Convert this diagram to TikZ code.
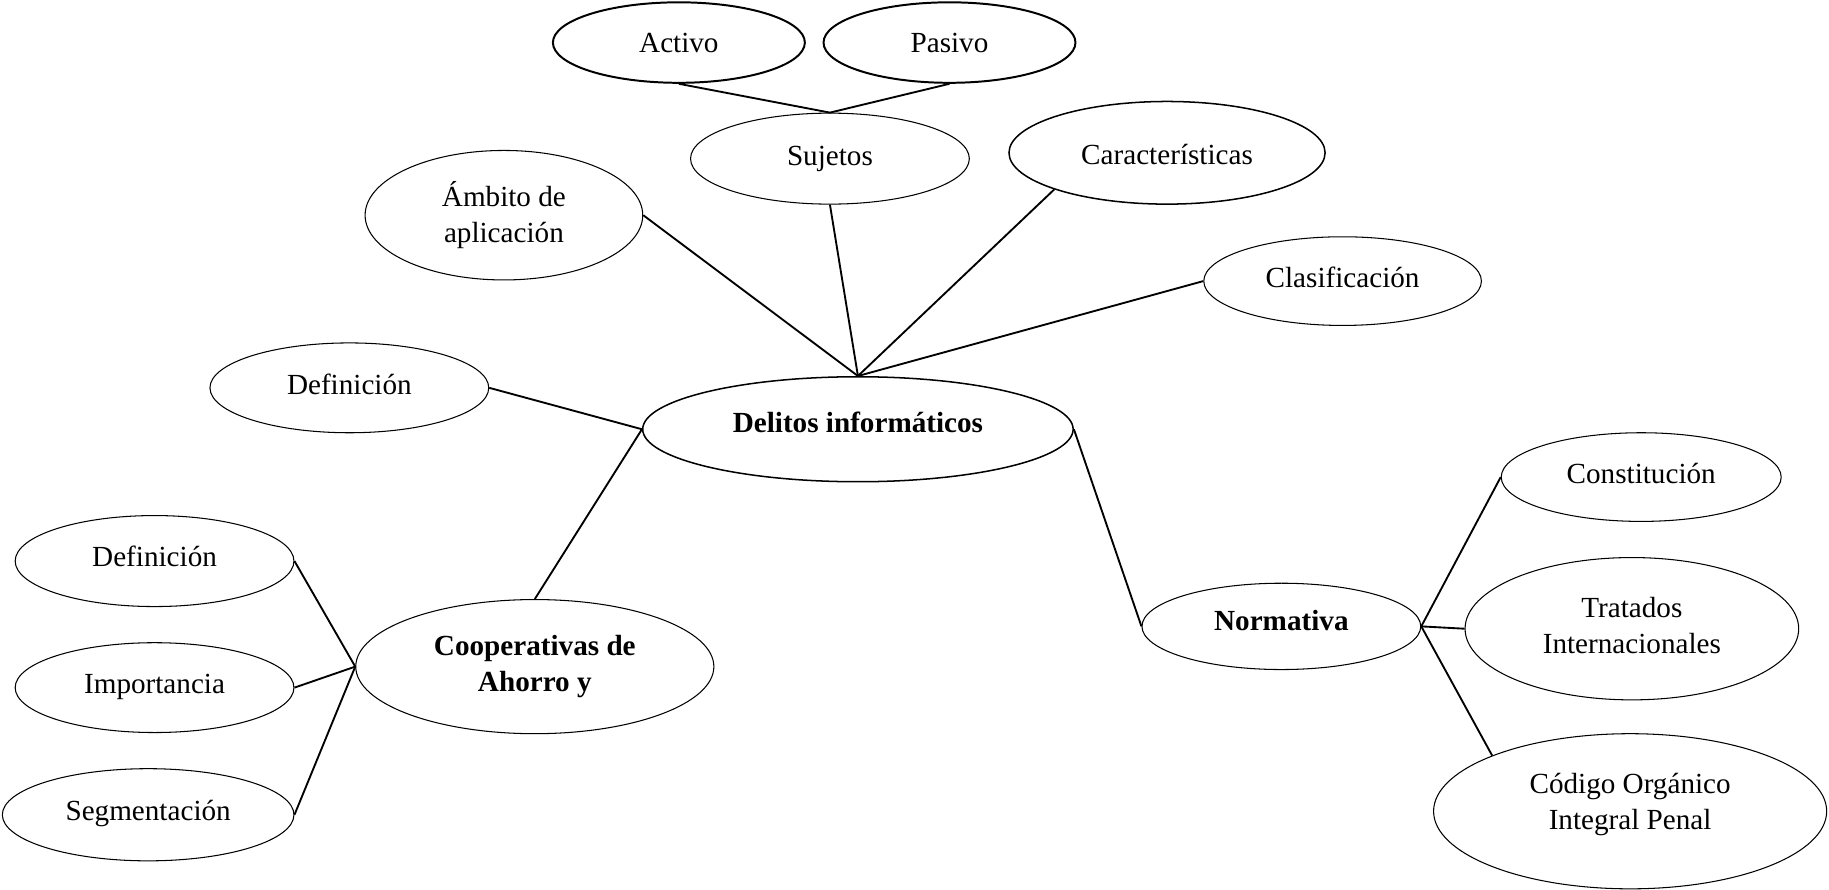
\documentclass[tikz,border=0pt]{standalone}
\usepackage{fontspec}
\setmainfont{Liberation Serif}
\usetikzlibrary{shapes.geometric}
\begin{document}
\begin{tikzpicture}[x=0.5pt,y=-0.5pt,
  every node/.style={font=\fontsize{12.5}{15.5}\selectfont},
  oval/.style={ellipse,draw=black,line width=0.45pt,inner sep=0pt},
  thickoval/.style={oval,line width=0.85pt},
  midoval/.style={oval,line width=0.65pt},
  txt/.style={inner sep=0pt,align=center},
  link/.style={draw=black,line width=0.8pt}]
\useasboundingbox (0,0) rectangle (1568,763);
% ellipses
\node[thickoval,minimum width=108pt,minimum height=34.5pt] (act) at (582,36.5) {};
\node[thickoval,minimum width=108pt,minimum height=34.5pt] (pas) at (814,36.5) {};
\node[oval,minimum width=119.5pt,minimum height=39pt] (suj) at (711.5,136) {};
\node[midoval,minimum width=135.5pt,minimum height=44pt] (car) at (1000.5,131) {};
\node[oval,minimum width=119pt,minimum height=38pt] (cla) at (1151,241) {};
\node[oval,minimum width=119pt,minimum height=55.5pt] (amb) at (432,184.5) {};
\node[oval,minimum width=119.5pt,minimum height=38.5pt] (def) at (299.5,332.5) {};
\node[midoval,minimum width=184.5pt,minimum height=45pt] (del) at (735.5,368) {};
\node[oval,minimum width=153.5pt,minimum height=57.5pt] (coop) at (458.5,571.5) {};
\node[oval,minimum width=119.5pt,minimum height=39pt] (def2) at (132.5,481) {};
\node[oval,minimum width=119.5pt,minimum height=38.5pt] (imp) at (132.5,589.5) {};
\node[oval,minimum width=125pt,minimum height=39.5pt] (seg) at (127,698.5) {};
\node[oval,minimum width=119.5pt,minimum height=37pt] (nor) at (1098.5,537) {};
\node[oval,minimum width=120pt,minimum height=38pt] (con) at (1407,409) {};
\node[oval,minimum width=143pt,minimum height=61pt] (tra) at (1399,539) {};
\node[oval,minimum width=168.5pt,minimum height=66.5pt] (cod) at (1397.5,695.5) {};
% texts
\node[txt] (act-t) at (act.center) {Activo};
\node[txt] (pas-t) at (pas.center) {Pasivo};
\node[txt] (suj-t) at (suj.center) {Sujetos};
\node[txt] (car-t) at ([yshift=-0.8pt]car.center) {Características};
\node[txt] (cla-t) at ([yshift=1.5pt]cla.center) {Clasificación};
\node[txt] (amb-t) at (amb.center) {Ámbito de\\aplicación};
\node[txt] (def-t) at ([yshift=1.5pt]def.center) {Definición};
\node[txt] (del-t) at ([yshift=3pt]del.center) {\textbf{Delitos informáticos}};
\node[txt] (coop-t) at (coop.center) {\textbf{Cooperativas de}\\\textbf{Ahorro y}};
\node[txt] (def2-t) at ([yshift=2pt]def2.center) {Definición};
\node[txt] (imp-t) at ([yshift=0.5pt]imp.center) {Importancia};
\node[txt] (seg-t) at ([yshift=0.5pt]seg.center) {Segmentación};
\node[txt] (nor-t) at ([yshift=2.5pt]nor.center) {\textbf{Normativa}};
\node[txt] (con-t) at ([yshift=1.5pt]con.center) {Constitución};
\node[txt] (tra-t) at ([yshift=1.5pt]tra.center) {Tratados\\Internacionales};
\node[txt] (cod-t) at ([yshift=3pt]cod.center) {Código Orgánico\\Integral Penal};
% connectors
\draw[link] (act.south) -- (suj.north);
\draw[link] (pas.south) -- (suj.north);
\draw[link] (suj.south) -- (del.north);
\draw[link] (car.198) -- (del.north);
\draw[link] (cla.west) -- (del.north);
\draw[link] (amb.east) -- (del.north);
\draw[link] (def.east) -- (del.west);
\draw[link] (del.west) -- (coop.north);
\draw[link] (def2.east) -- (coop.west);
\draw[link] (imp.east) -- (coop.west);
\draw[link] (seg.east) -- (coop.west);
\draw[link] (del.east) -- (nor.west);
\draw[link] (nor.east) -- (con.west);
\draw[link] (nor.east) -- (tra.west);
\draw[link] (nor.east) -- (cod.158);
\end{tikzpicture}
\end{document}
